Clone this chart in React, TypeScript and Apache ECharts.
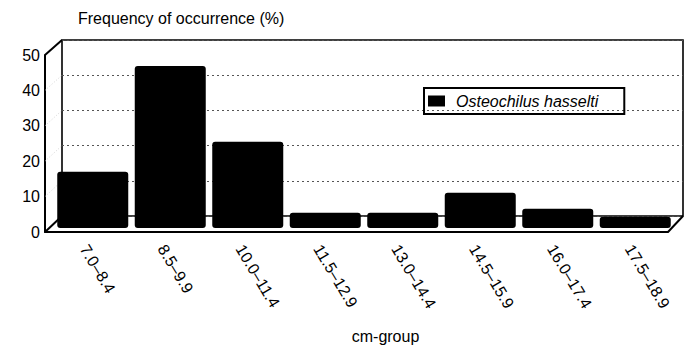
import React, { useEffect, useRef } from "react";
import * as echarts from "echarts";

const categories = ["7.0–8.4", "8.5–9.9", "10.0–11.4", "11.5–12.9", "13.0–14.4", "14.5–15.9", "16.0–17.4", "17.5–18.9"];
const frequency = [16, 46, 24.5, 4.3, 4.3, 10, 5.5, 3.2];
const yTickValues = [0, 10, 20, 30, 40, 50];
const seriesName = "Osteochilus hasselti";
const yTitle = "Frequency of occurrence (%)";
const xTitle = "cm-group";

const FONT = "Liberation Sans, Arial, Helvetica, sans-serif";
const W = 686;
const H = 349;
// front plane (axis labels)
const F = { left: 45, right: 668, top: 55, bottom: 232 };
// back wall
const B = { left: 62, right: 683, top: 40, bottom: 216 };
// bars plane
const P = { left: 54, right: 674, top: 52, bottom: 228 };

const YMAX = yTickValues[yTickValues.length - 1];

export default function App() {
  const ref = useRef<HTMLDivElement>(null);
  useEffect(() => {
    if (!ref.current) return;
    const chart = echarts.init(ref.current, null, { renderer: "svg" });

    const frontY = (v: number) => F.bottom - (v / YMAX) * (F.bottom - F.top);
    const backY = (v: number) => B.bottom - (v / YMAX) * (B.bottom - B.top);
    const faint = yTickValues
      .filter((v) => v > 0 && v < YMAX)
      .map((v) => ({
        type: "line",
        shape: { x1: F.left, y1: frontY(v), x2: B.left, y2: backY(v) },
        style: { stroke: "#c8c8c8", lineWidth: 0.8, lineDash: [1, 2] },
        z: 1,
      }));

    const grids = [
      { left: B.left, top: B.top, width: B.right - B.left, height: B.bottom - B.top, show: true, borderColor: "#000", borderWidth: 1.6, backgroundColor: "transparent", outerBoundsMode: "none" },
      { left: F.left, top: F.top, width: F.right - F.left, height: F.bottom - F.top, outerBoundsMode: "none" },
      { left: P.left, top: P.top, width: P.right - P.left, height: P.bottom - P.top, outerBoundsMode: "none" },
    ];

    chart.setOption({
      animation: false,
      backgroundColor: "#fff",
      textStyle: { fontFamily: FONT },
      title: {
        text: yTitle,
        left: 73,
        top: 5,
        textStyle: { fontSize: 16, fontWeight: "normal", color: "#000", fontFamily: FONT },
      },
      legend: {
        data: [seriesName],
        left: 424,
        top: 88,
        orient: "horizontal",
        icon: "rect",
        itemWidth: 17,
        itemHeight: 11,
        borderColor: "#000",
        borderWidth: 2,
        padding: [5, 26, 5, 4],
        textStyle: { fontSize: 16, fontStyle: "italic", color: "#000", fontFamily: FONT, padding: [0, 0, 0, 6] },
      },
      grid: grids,
      xAxis: [
        { gridIndex: 0, type: "category", data: categories, show: false },
        {
          gridIndex: 1,
          type: "category",
          data: categories,
          axisLine: { show: true, lineStyle: { color: "#000", width: 2 } },
          axisTick: { show: false },
          axisLabel: { rotate: -59, margin: 14, fontSize: 16, color: "#000", fontFamily: FONT, interval: 0 },
          name: xTitle,
          nameLocation: "middle",
          nameGap: 96,
          nameTextStyle: { fontSize: 16, color: "#000", fontFamily: FONT, padding: [0, 0, 0, 58] },
        },
        { gridIndex: 2, type: "category", data: categories, show: false },
      ],
      yAxis: [
        {
          gridIndex: 0,
          type: "value",
          min: 0,
          max: YMAX,
          interval: 10,
          axisLine: { show: false },
          axisTick: { show: false },
          axisLabel: { show: false },
          splitLine: { show: true, lineStyle: { color: "#555", width: 1, type: [2, 3] } },
        },
        {
          gridIndex: 1,
          type: "value",
          min: 0,
          max: YMAX,
          interval: 10,
          axisLine: { show: true, lineStyle: { color: "#000", width: 2 } },
          axisTick: { show: false },
          splitLine: { show: false },
          axisLabel: { margin: 5, fontSize: 16, color: "#000", fontFamily: FONT },
        },
        { gridIndex: 2, type: "value", min: 0, max: YMAX, show: false, splitLine: { show: false } },
      ],
      series: [
        {
          name: seriesName,
          type: "bar",
          xAxisIndex: 2,
          yAxisIndex: 2,
          data: frequency,
          barWidth: 71,
          itemStyle: { color: "#000", borderRadius: 3 },
          z: 5,
        },
      ],
      graphic: [
        ...faint,
        { type: "line", shape: { x1: F.left, y1: F.top, x2: B.left, y2: B.top }, style: { stroke: "#000", lineWidth: 2 }, z: 3 },
        { type: "line", shape: { x1: F.left, y1: F.bottom, x2: B.left, y2: B.bottom }, style: { stroke: "#000", lineWidth: 2 }, z: 3 },
        { type: "line", shape: { x1: F.right, y1: F.bottom, x2: B.right, y2: B.bottom }, style: { stroke: "#000", lineWidth: 2 }, z: 3 },
      ],
    });
    return () => chart.dispose();
  }, []);
  return <div ref={ref} style={{ width: W, height: H, position: "absolute", left: 0, top: 0 }} />;
}
